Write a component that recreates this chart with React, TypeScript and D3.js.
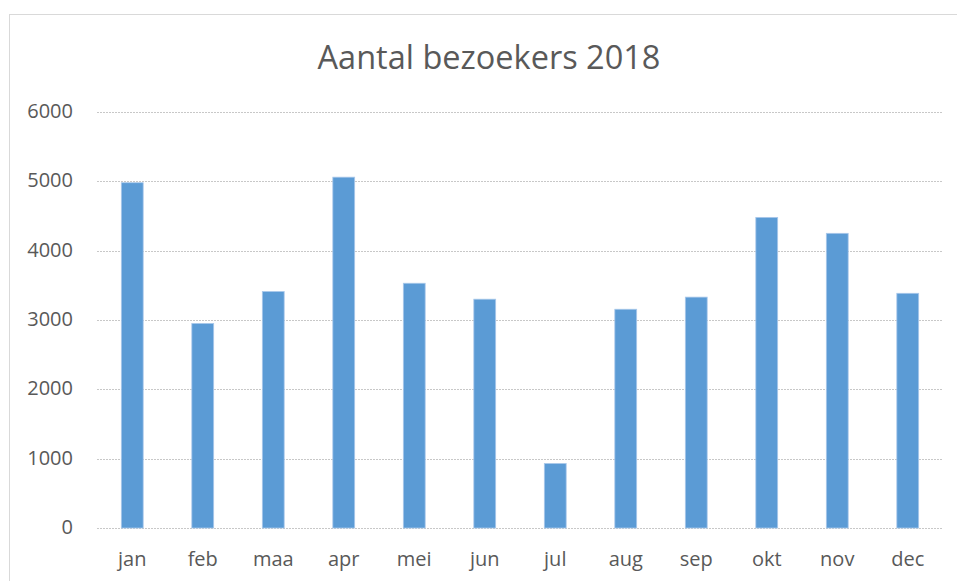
import React from "react";
import * as d3 from "d3";

const months = ["jan", "feb", "maa", "apr", "mei", "jun", "jul", "aug", "sep", "okt", "nov", "dec"];
const visitors = [4980, 2950, 3410, 5060, 3530, 3300, 930, 3155, 3330, 4480, 4250, 3385];
const yTicks = [0, 1000, 2000, 3000, 4000, 5000, 6000];
const title = "Aantal bezoekers 2018";

const W = 957;
const H = 581;
const margin = { top: 112, right: 14, bottom: 53, left: 97 };
const font = "'Open Sans', sans-serif";

const App = () => {
  const x = d3
    .scaleBand()
    .domain(months)
    .range([margin.left, W - margin.right])
    .paddingInner(0.69)
    .paddingOuter(0.345);

  const y = d3
    .scaleLinear()
    .domain([0, 6000])
    .range([H - margin.bottom, margin.top]);

  return (
    <svg
      width={W}
      height={H}
      style={{ position: "absolute", left: 0, top: 0, background: "#fff" }}
    >
      {/* chart frame, right and bottom edges fall outside the picture */}
      <rect x={9.5} y={14.5} width={W + 20} height={H + 20} fill="#fff" stroke="#d9d9d9" />

      <text
        x={489}
        y={69}
        textAnchor="middle"
        fontFamily={font}
        fontSize={32.5}
        fill="#595959"
      >
        {title}
      </text>

      {/* gridlines */}
      {yTicks.map((t) => (
        <line
          key={t}
          x1={margin.left}
          x2={W - margin.right}
          y1={Math.round(y(t)) + 0.5}
          y2={Math.round(y(t)) + 0.5}
          stroke="#c8c8c8"
          strokeDasharray="2,1"
        />
      ))}

      {/* y labels */}
      {yTicks.map((t) => (
        <text
          key={t}
          x={73}
          y={y(t) - 1}
          dy="0.35em"
          textAnchor="end"
          fontFamily={font}
          fontSize={20}
          fill="#595959"
        >
          {t}
        </text>
      ))}

      {/* bars */}
      {months.map((m, i) => (
        <rect
          key={m}
          x={x(m)}
          y={y(visitors[i])}
          width={x.bandwidth()}
          height={y(0) - y(visitors[i])}
          fill="#5b9bd5"
          stroke="#a9c8ea"
          strokeWidth={0.8}
        />
      ))}

      {/* x labels */}
      {months.map((m) => (
        <text
          key={m}
          x={(x(m) ?? 0) + x.bandwidth() / 2}
          y={566}
          textAnchor="middle"
          fontFamily={font}
          fontSize={20}
          fill="#595959"
        >
          {m}
        </text>
      ))}
    </svg>
  );
};

export default App;
